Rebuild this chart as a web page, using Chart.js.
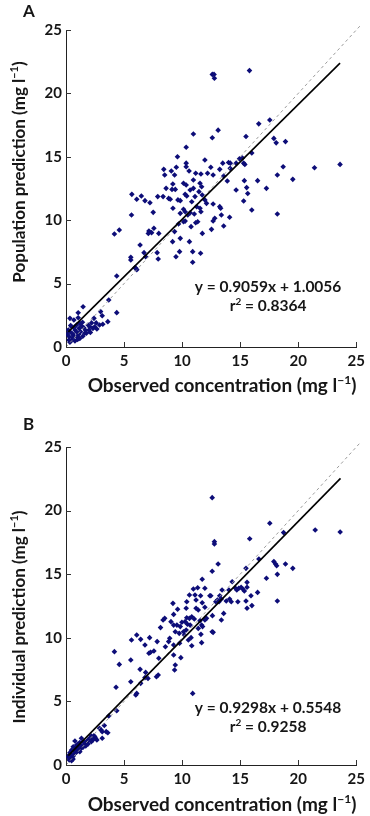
<!DOCTYPE html>
<html>
<head>
<meta charset="utf-8">
<script src="https://cdn.jsdelivr.net/npm/chart.js@4.4.1/dist/chart.umd.min.js"></script>
<style>
  body { margin: 0; background: #fff; }
  canvas { display: block; }
</style>
</head>
<body>
<canvas id="chartA" width="370" height="408"></canvas>
<canvas id="chartB" width="370" height="408"></canvas>
<script>
"use strict"

// axis ticks (both axes, both panels)
const axisTicks = [0, 5, 10, 15, 20, 25];

// panel A: observed vs population prediction
const popPoints = [
  [12.6,21.5],[12.75,21.5],[12.78,21.2],[15.8,21.8],[10.97,16.8],[13.1,17.1],[12.6,16.5],[10.35,15.75],[9.6,15.0],
  [10.35,14.5],[11.96,14.75],[13.5,14.5],[14.0,14.55],[14.15,14.5],[14.65,14.5],[14.94,14.85],[15.2,14.9],[15.3,14.5],
  [15.4,14.4],[15.5,16.6],[16.0,15.3],[16.6,17.6],[17.55,17.9],[17.9,16.45],[18.1,16.1],[18.9,16.2],[23.6,14.4],
  [8.42,14.01],[9.5,14.17],[10.35,14.22],[9.07,13.88],[8.5,13.56],[9.35,13.56],[10.6,13.88],[11.17,13.7],[11.62,13.64],
  [12.47,14.17],[12.19,13.7],[12.67,13.56],[13.24,14.01],[13.58,13.49],[14.14,14.09],[13.89,13.09],[15.36,13.12],
  [16.5,13.12],[18.2,13.56],[18.7,14.22],[19.53,13.22],[21.4,14.14],[17.26,12.51],[15.56,12.57],[15.65,12.1],
  [14.65,12.38],[15.3,11.51],[16.0,10.8],[18.2,10.49],
  [5.67,12.04],[6.09,11.65],[6.49,11.91],[6.8,11.54],[7.23,11.38],[7.9,11.86],[8.36,11.86],[8.62,12.51],[9.13,12.43],
  [9.41,12.43],[9.2,12.86],[10.12,12.91],[10.35,12.78],[10.97,13.17],[11.54,12.91],[11.68,12.64],[11.45,12.25],
  [10.97,12.51],[10.69,12.38],[10.26,12.04],[10.4,11.91],[8.84,11.72],[8.98,11.65],[9.64,11.6],[9.84,11.54],
  [10.83,11.46],[11.11,11.86],[11.73,11.99],[11.96,11.6],[12.1,11.33],[12.67,11.28],[11.25,11.07],[11.54,10.94],
  [11.62,10.67],[10.12,10.86],[10.26,10.67],[9.21,10.94],[9.84,10.54],[10.49,10.41],[10.69,10.59],[11.05,10.49],
  [13.24,11.07],[13.32,10.94],[12.81,10.15],[13.38,10.41],[14.09,10.23],[7.51,10.62],[5.64,10.41],[10.26,9.93],
  [10.12,9.88],[11.34,9.88],[11.17,9.8],[9.69,9.7],[10.77,9.49],[12.67,9.94],[12.53,9.28],[13.58,9.54],[11.74,8.96],
  [9.35,9.1],[9.84,8.57],[9.18,8.31],[10.63,8.31],[7.99,8.96],[7.57,9.36],[7.14,9.15],[7.37,9.02],[7.09,8.96],
  [4.59,9.23],[4.17,8.91],[6.38,8.04],[6.72,7.44],[6.86,7.12],[7.85,7.44],[7.94,6.94],[9.78,7.52],[9.47,7.12],
  [10.91,7.52],[10.91,6.68],[11.59,7.39],[5.58,7.07],[5.58,6.86],[6.0,6.2],[6.1,6.1],
  [4.37,5.6],[5.95,6.26],[3.68,3.71],[4.37,2.71],[1.47,3.18],[1.05,2.7],[2.41,2.26],[2.98,2.79],[3.12,2.47],[2.89,1.74],
  [3.17,1.79],[3.6,2.0],[2.47,1.6],[2.32,1.47],[2.66,1.42],[1.98,1.34],[1.76,1.08],[1.05,2.31],[0.34,2.26],[0.68,2.13],
  [0.48,1.6],[0.91,1.74],[1.19,1.87],[1.42,1.95],[0.77,1.34],[1.13,1.47],[1.53,1.52],[1.25,1.21],[1.62,1.08],
  [0.34,1.21],[0.62,0.95],[0.96,0.81],[0.48,0.55],[0.77,0.47],[0.34,0.37],[1.19,0.68],[0.2,1.34],[0.28,0.81],
  [0.11,1.0],[1.9,1.74],[2.04,1.6],[0.55,1.05],[0.9,1.2],[1.35,1.65],[1.7,1.3],[2.2,1.9],[1.0,0.6],[0.6,0.75],
  [0.25,0.55],[1.45,0.85],[2.6,1.9],[1.1,1.0],[0.4,1.7],[0.7,1.55],[2.1,1.15]
];

// panel B: observed vs individual prediction
const indPoints = [
  [12.59,21.02],[12.78,17.56],[12.78,17.37],[15.82,17.79],[17.55,19.0],[18.74,18.27],[21.46,18.47],[23.61,18.32],
  [13.1,15.8],[12.59,15.23],[15.5,15.46],[16.61,16.2],[17.9,15.99],[18.05,15.8],[18.14,15.67],[18.9,15.8],
  [19.53,15.46],[18.2,14.99],[17.26,14.68],[11.73,14.6],
  [14.31,14.41],[15.59,14.36],[13.44,13.76],[14.03,13.76],[14.6,13.89],[14.71,13.76],[14.88,13.89],[15.08,13.97],
  [15.22,13.84],[15.36,13.68],[15.59,13.97],[16.5,13.57],[15.93,13.31],[10.97,13.84],[11.34,13.94],[11.96,13.89],
  [10.63,13.36],[11.11,13.36],[11.59,13.31],[11.2,12.97],[10.4,12.84],[11.73,12.76],[11.96,12.4],[12.39,13.31],
  [12.47,13.31],[13.24,13.31],[13.38,13.05],[13.18,12.84],[12.9,12.84],[13.04,12.97],[13.8,12.89],[14.09,13.05],
  [14.23,12.84],[14.8,12.84],[15.5,12.89],[15.59,12.32],[16.01,12.53],[18.2,12.89],[9.21,12.71],[9.61,12.24],
  [10.35,12.32],[11.2,12.32],[11.39,12.19],[9.27,11.84],[8.5,11.53],[8.36,11.4],[8.14,10.8],[9.04,11.27],[9.27,11.0],
  [9.55,11.0],[9.84,10.88],[9.98,11.22],[10.26,11.27],[10.4,11.58],[10.63,11.53],[10.83,11.66],[11.05,11.48],
  [10.46,11.06],[10.69,11.0],[11.54,11.35],[11.68,11.0],[11.96,11.4],[12.1,11.53],[12.61,11.74],[11.39,10.74],
  [11.76,10.88],[10.12,10.48],[10.35,10.61],[10.2,10.22],[9.41,10.48],[9.75,10.35],[10.77,10.01],[10.54,9.83],
  [10.83,9.38],[11.62,10.27],[11.68,9.62],[12.59,10.48],[12.67,10.43],[13.38,11.4],[13.58,11.92],[9.78,9.57],
  [8.93,9.96],[9.27,9.43],[8.84,9.7],[8.56,9.3],[7.85,9.7],[7.2,10.01],[6.8,9.43],[6.09,10.22],[5.64,9.83],
  [6.43,9.88],[4.17,8.91],[4.59,7.91],[5.58,8.25],[7.14,8.78],[7.28,8.86],[7.57,8.96],[7.99,8.39],[6.38,7.52],
  [6.86,7.28],[9.27,8.65],[9.41,7.86],[9.35,7.47],[9.89,8.44],
  [4.31,6.11],[4.37,4.27],[5.58,6.55],[6.01,5.5],[6.09,5.63],[6.43,6.42],[6.8,6.87],[7.06,6.81],[7.94,7.08],
  [7.79,6.94],[10.91,5.63],[3.68,3.85],[3.3,3.1],
  [2.89,2.88],[3.03,2.75],[3.12,2.62],[3.46,2.62],[3.6,2.54],[3.12,2.1],[2.47,2.23],[2.55,2.1],[2.66,1.97],
  [2.32,1.97],[2.18,2.28],[2.04,2.1],[1.9,1.97],[1.76,1.83],[1.62,1.76],[1.33,2.1],[1.47,1.83],[1.19,1.76],
  [1.05,1.65],[0.91,1.57],[0.77,1.89],[0.62,1.44],[0.85,1.31],[1.05,1.18],[1.25,1.26],[1.47,1.39],[0.48,1.18],
  [0.34,0.97],[0.28,0.79],[0.2,0.66],[0.4,0.6],[0.62,0.71],[0.77,0.92],[0.57,0.52],[0.28,0.39],[0.48,0.34],
  [1.19,1.05],[1.7,1.49],[1.9,1.65],[2.18,1.83],[0.35,0.5],[0.5,0.8],[0.9,1.0],[1.3,1.5],[1.6,1.6],[2.4,2.3],
  [0.7,1.1],[1.0,1.4],[0.25,0.6],[0.6,0.45]
];

// regression lines (end points) and the line of identity
const popFit = [[0.2, 1.19], [23.6, 22.39]];
const indFit = [[0.2, 0.74], [23.64, 22.53]];
const identityLine = [[0, 0], [25.3, 25.3]];

const popEquation = ["y = 0.9059x + 1.0056", "0.8364"];
const indEquation = ["y = 0.9298x + 0.5548", "0.9258"];

const FONT = "Lato, 'Open Sans', sans-serif";
const WEIGHT = 'bold';
const INK = '#161616';

// text with a small raised part, e.g. "(mg l" + "−1" + ")"
function drawSupText(ctx, parts, x, y, size) {
  const big = `${WEIGHT} ${size}px ${FONT}`;
  const small = `${WEIGHT} ${Math.round(size * 0.62)}px ${FONT}`;
  let w = 0;
  parts.forEach(p => { ctx.font = p.sup ? small : big; w += ctx.measureText(p.t).width; });
  let cx = x - w / 2;
  parts.forEach(p => {
    ctx.font = p.sup ? small : big;
    ctx.fillText(p.t, cx, p.sup ? y - size * 0.42 : y);
    cx += ctx.measureText(p.t).width;
  });
}

const panelDecor = {
  id: 'panelDecor',
  afterDraw(chart, args, o) {
    const ctx = chart.ctx;
    const area = chart.chartArea;
    const xs = chart.scales.x, ys = chart.scales.y;
    ctx.save();
    // inner tick marks
    ctx.strokeStyle = '#333';
    ctx.lineWidth = 1;
    xs.ticks.forEach(t => {
      const px = Math.round(xs.getPixelForValue(t.value)) + 0.5;
      ctx.beginPath(); ctx.moveTo(px, area.bottom); ctx.lineTo(px, area.bottom - 5); ctx.stroke();
    });
    ys.ticks.forEach(t => {
      const py = Math.round(ys.getPixelForValue(t.value)) + 0.5;
      ctx.beginPath(); ctx.moveTo(area.left, py); ctx.lineTo(area.left + 5, py); ctx.stroke();
    });

    ctx.fillStyle = INK;
    ctx.textBaseline = 'alphabetic';
    ctx.textAlign = 'left';
    // panel letter
    ctx.font = `${WEIGHT} 17px ${FONT}`;
    ctx.fillText(o.letter, 23, o.letterY);

    // x title
    drawSupText(ctx, [{t: 'Observed concentration (mg l'}, {t: '\u22121', sup: true}, {t: ')'}],
      o.xTitleX, area.bottom + o.xTitleDy, 19);

    // y title, rotated
    ctx.save();
    ctx.translate(o.yTitleX, area.top + o.yTitleDy);
    ctx.rotate(-Math.PI / 2);
    drawSupText(ctx, [{t: o.yTitle + ' (mg l'}, {t: '\u22121', sup: true}, {t: ')'}], 0, 0, 17);
    ctx.restore();

    // regression equation
    const ex = xs.getPixelForValue(o.eqAt[0]);
    const ey = ys.getPixelForValue(o.eqAt[1]);
    drawSupText(ctx, [{t: o.eq[0]}], ex, ey, 15.5);
    drawSupText(ctx, [{t: 'r'}, {t: '2', sup: true}, {t: ' = ' + o.eq[1]}], ex, ey + 19, 15.5);
    ctx.restore();
  }
};

function toXY(list) {
  return list.map(p => ({ x: p[0], y: p[1] }));
}

function makePanel(canvasId, points, fit, decor, padTop, xAxisHeight) {
  const tickFont = { family: FONT, size: 15, weight: WEIGHT };
  const config = {
    type: 'scatter',
    data: {
      datasets: [
        { // regression line, on top
          type: 'line', data: toXY(fit), borderColor: '#000', borderWidth: 1.6,
          pointRadius: 0, fill: false, tension: 0
        },
        { // line of identity
          type: 'line', data: toXY(identityLine), borderColor: '#9b9b9b', borderWidth: 1,
          borderDash: [3, 3], pointRadius: 0, fill: false, clip: false
        },
        {
          data: toXY(points), pointStyle: 'rectRot', pointRadius: 2.8,
          backgroundColor: '#0d0d78', borderWidth: 0
        }
      ]
    },
    options: {
      responsive: false,
      animation: false,
      layout: { padding: { top: padTop, right: 10, left: 0, bottom: 0 } },
      plugins: {
        legend: { display: false },
        tooltip: { enabled: false },
        panelDecor: decor
      },
      scales: {
        x: {
          type: 'linear', min: 0, max: 25,
          afterBuildTicks: s => { s.ticks = axisTicks.map(v => ({ value: v })); },
          ticks: { font: tickFont, color: INK, padding: 5, maxRotation: 0 },
          grid: { drawOnChartArea: false, drawTicks: false },
          border: { color: '#222', width: 1 },
          afterFit: s => { s.height = xAxisHeight; }
        },
        y: {
          type: 'linear', min: 0, max: 25,
          afterBuildTicks: s => { s.ticks = axisTicks.map(v => ({ value: v })); },
          ticks: { font: tickFont, color: INK, padding: 4 },
          grid: { drawOnChartArea: false, drawTicks: false },
          border: { color: '#222', width: 1 },
          afterFit: s => { s.width = 66; }
        }
      }
    },
    plugins: [panelDecor]
  };
  return new Chart(document.getElementById(canvasId), config);
}

makePanel('chartA', popPoints, popFit, {
  letter: 'A', letterY: 17, yTitle: 'Population prediction',
  xTitleX: 222, xTitleDy: 45, yTitleX: 25, yTitleDy: 142,
  eq: popEquation, eqAt: [17.4, 4.3]
}, 30, 61);

makePanel('chartB', indPoints, indFit, {
  letter: 'B', letterY: 22, yTitle: 'Individual prediction',
  xTitleX: 222, xTitleDy: 46, yTitleX: 25, yTitleDy: 170,
  eq: indEquation, eqAt: [17.4, 4.05]
}, 39, 51);
</script>
</body>
</html>
